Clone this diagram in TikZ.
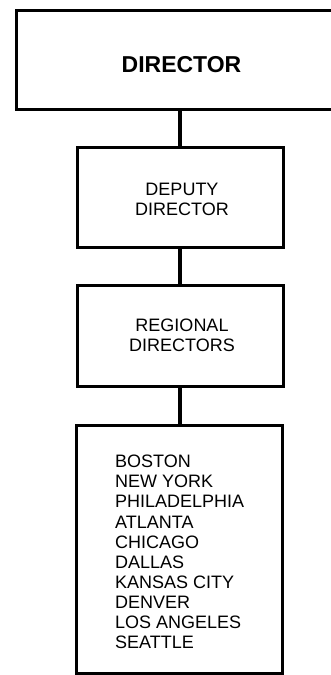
\documentclass[tikz,border=0pt]{standalone}
\usepackage{fontspec}
\setmainfont{Liberation Sans}
\begin{document}
\begin{tikzpicture}[x=1pt,y=-1pt,
  box/.style={draw=black,line width=3pt,rectangle,inner sep=0pt},
  conn/.style={draw=black,line width=3.5pt},
  lbl/.style={inner sep=0pt,align=center,font=\fontsize{18}{20}\selectfont},
  lst/.style={inner sep=0pt,align=left,font=\fontsize{18}{20.1}\selectfont}]
\useasboundingbox (0,0) rectangle (331,675);
\clip (0,0) rectangle (331,675);
\node[box,minimum width=330,minimum height=99] (dir) at (181,59.5) {};
\node[box,minimum width=206,minimum height=100] (dep) at (180,197.5) {};
\node[box,minimum width=206,minimum height=101] (reg) at (180,335.5) {};
\node[box,minimum width=206,minimum height=248] (city) at (179,549) {};
\node[inner sep=0pt,anchor=base,font=\bfseries\fontsize{23}{26}\selectfont] (dirt) at (181.5,72) {DIRECTOR};
\node[lbl,anchor=north] (dept) at (182,183) {DEPUTY\\DIRECTOR};
\node[lbl,anchor=north] (regt) at (182,319) {REGIONAL\\DIRECTORS};
\node[lst,anchor=north west] (cityt) at (115,455) {BOSTON\\NEW YORK\\PHILADELPHIA\\ATLANTA\\CHICAGO\\DALLAS\\KANSAS CITY\\DENVER\\LOS ANGELES\\SEATTLE};
\draw[conn] (dep.north |- dir.south) -- (dep.north);
\draw[conn] (dep.south) -- (reg.north);
\draw[conn] (city.north -| reg.south) -- (reg.south);
\end{tikzpicture}
\end{document}
